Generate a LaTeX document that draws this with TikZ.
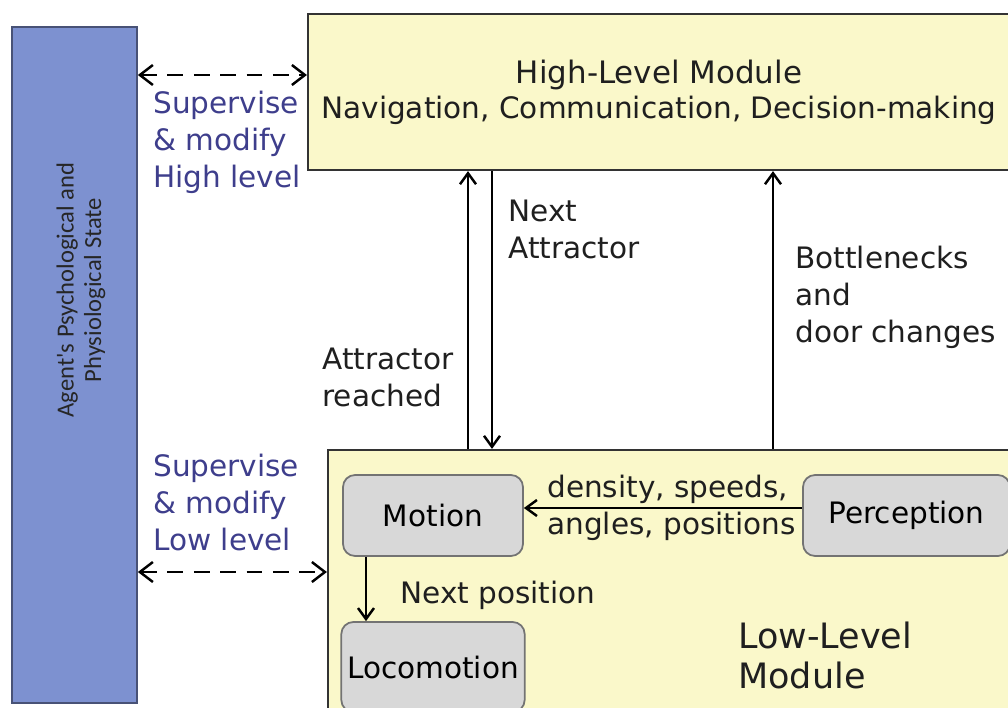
\documentclass[tikz,border=0pt]{standalone}
\usepackage{fontspec}
\setmainfont{DejaVu Sans}
\newfontfamily\agentfont{Carlito}
\usetikzlibrary{arrows.meta}

\definecolor{agentblue}{RGB}{125,145,208}
\definecolor{agentedge}{RGB}{72,82,118}
\definecolor{modyellow}{RGB}{250,248,202}
\definecolor{subgray}{RGB}{216,216,216}
\definecolor{supcolor}{RGB}{62,62,140}

\tikzset{
    modbox/.style={draw=black!80, line width=1.3pt, fill=modyellow},
    subbox/.style={draw=black!55, line width=1pt, fill=subgray, rounded corners=0.24cm,
        font=\fontsize{16.8}{20}\selectfont},
    txt/.style={inner sep=0pt, align=left, text=black!88, font=\fontsize{16.8}{21}\selectfont},
    arr/.style={line width=1.4pt, -{Straight Barb[length=0.22cm, width=0.32cm]}},
    dasharr/.style={line width=1.4pt, dash pattern=on 9pt off 6pt,
        {Straight Barb[length=0.26cm, width=0.4cm]}-{Straight Barb[length=0.26cm, width=0.4cm]}},
}

\begin{document}
\begin{tikzpicture}[x=0.02cm, y=-0.02cm]
    \useasboundingbox (0,0) rectangle (1008,707);
    \clip (0,0) rectangle (1008,707);

    % agent state column
    \node [draw=agentedge, line width=1pt, fill=agentblue, minimum width=2.5cm, minimum height=13.52cm] (agent) at (74.5,365) {};
    \node [rotate=90, align=center, text=black!85, font=\agentfont\fontsize{14}{15.6}\selectfont] (agenttxt) at (81,290) {Agent's Psychological and\\Physiological State};

    % the two modules
    \node [modbox, minimum width=14.04cm, minimum height=3.12cm, align=center, text=black!88,
        font=\fontsize{16.8}{20}\selectfont] (high) at (659,92)
        {{\fontsize{17.6}{20}\selectfont High-Level Module}\\Navigation, Communication, Decision-making};
    \node [modbox, minimum width=13.64cm, minimum height=5.4cm] (low) at (669,585) {};
    \node [txt, anchor=west, font=\fontsize{19.9}{22.8}\selectfont] (lowtxt) at (738,655) {Low-Level\\Module};

    % low level blocks
    \node [subbox, minimum width=3.6cm, minimum height=1.62cm] (motion) at (433,515.5) {Motion};
    \node [subbox, minimum width=4.14cm, minimum height=1.62cm] (perc) at (906.5,515.5) {Perception};
    \node [subbox, minimum width=3.6cm, minimum height=1.8cm] (loco) at (433,667) {Locomotion};

    % arrow positions
    \coordinate (sup1) at (0,75);
    \coordinate (sup2) at (0,572);
    \coordinate (reach) at (468,0);
    \coordinate (nexta) at (492,0);
    \coordinate (neck) at (773,0);
    \coordinate (flow) at (0,508);
    \coordinate (nextp) at (366,0);

    \draw [dasharr] (agent.east |- sup1) -- (high.west |- sup1);
    \draw [dasharr] (agent.east |- sup2) -- (low.west |- sup2);

    \draw [arr] (low.north -| reach) -- (high.south -| reach);
    \draw [arr] (high.south -| nexta) -- (low.north -| nexta);
    \draw [arr] (low.north -| neck) -- (high.south -| neck);
    \draw [arr] (perc.west |- flow) -- (motion.east |- flow);
    \draw [arr] (motion.south -| nextp) -- (loco.north -| nextp);

    % labels
    \node [txt, text=supcolor, anchor=north west] (suphigh) at (153,91) {Supervise\\\& modify\\High level};
    \node [txt, text=supcolor, anchor=north west] (suplow) at (153,454) {Supervise\\\& modify\\Low level};
    \node [txt, anchor=north west] (reachtxt) at (322,348) {Attractor\\reached};
    \node [txt, anchor=north west] (nextatxt) at (508,200) {Next\\Attractor};
    \node [txt, anchor=north west] (necktxt) at (795,246) {Bottlenecks\\and\\door changes};
    \node [txt, anchor=west] (flowtxt) at (547,508) {density, speeds,\\angles, positions};
    \node [txt, anchor=west] (nextptxt) at (400,595) {Next position};
\end{tikzpicture}
\end{document}
